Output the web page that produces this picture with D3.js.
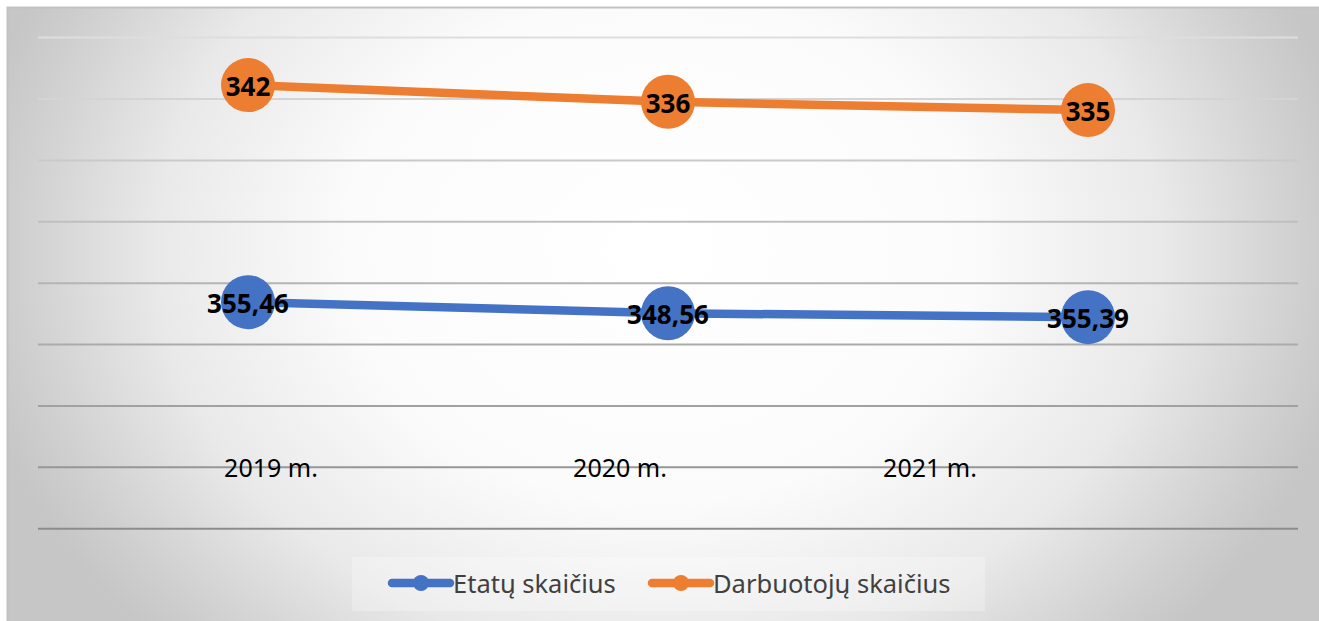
<!DOCTYPE html>
<html>
<head>
<meta charset="utf-8">
<script src="https://cdn.jsdelivr.net/npm/d3@7"></script>
<style>
  html, body { margin: 0; padding: 0; background: #ffffff; }
  svg { display: block; }
</style>
</head>
<body>
<svg id="chart" width="1319" height="621"></svg>
<script>
// ---- data ----
const categories = ["2019 m.", "2020 m.", "2021 m."];
const seriesNames = ["Etatų skaičius", "Darbuotojų skaičius"];
// values as plotted on the (hidden) value axis
const etatuValues = [369, 351, 344.6];
const darbuotojuValues = [722.6, 695.4, 681.9];
// data label texts shown on the markers
const etatuLabels = ["355,46", "348,56", "355,39"];
const darbuotojuLabels = ["342", "336", "335"];
const yTicks = [0, 100, 200, 300, 400, 500, 600, 700, 800];

// ---- layout ----
const W = 1319, H = 621;
const plot = { left: 38, right: 1298, top: 37.6, bottom: 528.7 };
const colors = ["#4472C4", "#ED7D31"];
const catLabelShift = [23, -48, -158];   // category labels sit off their band centres
const FONT = "'Noto Sans', 'Open Sans', sans-serif";

const svg = d3.select("#chart");
const defs = svg.append("defs");

const grad = defs.append("radialGradient")
  .attr("id", "bg")
  .attr("gradientUnits", "userSpaceOnUse")
  .attr("cx", 0).attr("cy", 0).attr("r", 1)
  .attr("gradientTransform", "translate(660,250) scale(700,560)");
[[0, "#ffffff"], [0.45, "#fbfbfb"], [0.72, "#e9e9e9"], [0.92, "#cfcfcf"], [1, "#c6c6c6"]]
  .forEach(([o, c]) => grad.append("stop").attr("offset", o).attr("stop-color", c));

// chart area background + frame
svg.append("rect")
  .attr("x", 7.5).attr("y", 7.5)
  .attr("width", W).attr("height", H)
  .attr("fill", "url(#bg)")
  .attr("stroke", "#c2c2c2")
  .attr("stroke-width", 2);

const x = d3.scaleBand().domain(categories).range([plot.left, plot.right]);
const y = d3.scaleLinear().domain([0, 800]).range([plot.bottom, plot.top]);

// gridlines
const gridColor = d3.interpolateRgb("#dedede", "#8c8c8c");
svg.append("g").selectAll("line")
  .data(yTicks)
  .join("line")
  .attr("x1", plot.left).attr("x2", plot.right)
  .attr("y1", d => y(d)).attr("y2", d => y(d))
  .attr("stroke", (d, i) => gridColor(1 - i / (yTicks.length - 1)))
  .attr("stroke-width", 2);

// category labels
svg.append("g").selectAll("text")
  .data(categories)
  .join("text")
  .attr("x", (d, i) => x(d) + x.bandwidth() / 2 + catLabelShift[i])
  .attr("y", 477)
  .attr("text-anchor", "middle")
  .attr("font-family", FONT)
  .attr("font-size", 25)
  .attr("fill", "#000")
  .text(d => d);

const series = [
  { name: seriesNames[0], values: etatuValues, labels: etatuLabels, color: colors[0] },
  { name: seriesNames[1], values: darbuotojuValues, labels: darbuotojuLabels, color: colors[1] }
];

const line = d3.line()
  .x((d, i) => x(categories[i]) + x.bandwidth() / 2)
  .y(d => y(d));

series.forEach(s => {
  const g = svg.append("g");
  g.append("path")
    .attr("d", line(s.values))
    .attr("fill", "none")
    .attr("stroke", s.color)
    .attr("stroke-width", 8.5)
    .attr("stroke-linecap", "round");
  g.selectAll("circle")
    .data(s.values)
    .join("circle")
    .attr("cx", (d, i) => x(categories[i]) + x.bandwidth() / 2)
    .attr("cy", d => y(d))
    .attr("r", 27)
    .attr("fill", s.color);
  g.selectAll("text")
    .data(s.values)
    .join("text")
    .attr("x", (d, i) => x(categories[i]) + x.bandwidth() / 2)
    .attr("y", d => y(d) + 1)
    .attr("text-anchor", "middle")
    .attr("dominant-baseline", "central")
    .attr("font-family", FONT)
    .attr("font-weight", "bold")
    .attr("font-size", 26)
    .attr("fill", "#000")
    .text((d, i) => s.labels[i]);
});

// legend
const legend = svg.append("g");
legend.append("rect")
  .attr("x", 352).attr("y", 557)
  .attr("width", 633).attr("height", 54)
  .attr("fill", "#ffffff").attr("opacity", 0.25);

const legendX = [392, 652];
series.forEach((s, i) => {
  const lg = legend.append("g").attr("transform", `translate(${legendX[i]},583)`);
  lg.append("line")
    .attr("x1", 0).attr("x2", 58)
    .attr("y1", 0).attr("y2", 0)
    .attr("stroke", s.color)
    .attr("stroke-width", 8.5)
    .attr("stroke-linecap", "round");
  lg.append("circle")
    .attr("cx", 29).attr("cy", 0).attr("r", 8)
    .attr("fill", s.color);
  lg.append("text")
    .attr("x", 61).attr("y", 0)
    .attr("dominant-baseline", "central")
    .attr("font-family", FONT)
    .attr("font-size", 25.5)
    .attr("fill", "#404040")
    .text(s.name);
});
</script>
</body>
</html>
